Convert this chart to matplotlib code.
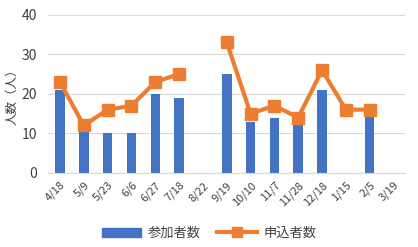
import matplotlib
matplotlib.use("Agg")
import matplotlib.pyplot as plt
import numpy as np
from matplotlib.lines import Line2D
from matplotlib.patches import Patch

plt.rcParams['font.family'] = ['Noto Sans CJK JP', 'DejaVu Sans']

categories = ["4/18", "5/9", "5/23", "6/6", "6/27", "7/18", "8/22", "9/19",
              "10/10", "11/7", "11/28", "12/18", "1/15", "2/5", "3/19"]
participants = [21, 11, 10, 10, 20, 19, np.nan, 25, 13, 14, 12, 21, np.nan, 15, np.nan]
applicants = [23, 12, 16, 17, 23, 25, np.nan, 33, 15, 17, 14, 26, 16, 16, np.nan]
yticks = [0, 10, 20, 30, 40]

blue = "#4472C4"
orange = "#ED7D31"

fig = plt.figure(figsize=(4.18, 2.47), dpi=100)
ax = fig.add_axes([0.115, 0.30, 0.855, 0.64])
x = np.arange(len(categories))
ax.bar(x, participants, width=0.4, color=blue, zorder=2)
ax.plot(x, applicants, color=orange, lw=3, marker='s', markersize=9, zorder=3)

ax.set_xlim(-0.5, len(categories) - 0.5)
ax.set_ylim(0, 40)
ax.set_yticks(yticks)
ax.set_xticks(x)
ax.set_xticklabels(categories, rotation=45, ha='right', rotation_mode='anchor', fontsize=8, color='#404040')
ax.tick_params(axis='y', labelsize=10, colors='#404040', length=0, pad=8)
ax.tick_params(axis='x', length=0, pad=5)
ax.grid(axis='y', color='#D9D9D9', lw=0.8, zorder=0)
for s in ['top', 'right', 'left']:
    ax.spines[s].set_visible(False)
ax.spines['bottom'].set_color('#D9D9D9')
ax.set_ylabel("人数（人）", fontsize=9, color='#404040', labelpad=2)

handles = [Patch(color=blue), Line2D([0], [0], color=orange, lw=3, marker='s', markersize=7)]
fig.legend(handles, ["参加者数", "申込者数"], loc='center', bbox_to_anchor=(0.5, 0.055),
           ncol=2, frameon=False, fontsize=9.5, handlelength=3, columnspacing=1.2,
           handletextpad=0.5, labelcolor='#404040')

fig.savefig("out.png", dpi=100)
